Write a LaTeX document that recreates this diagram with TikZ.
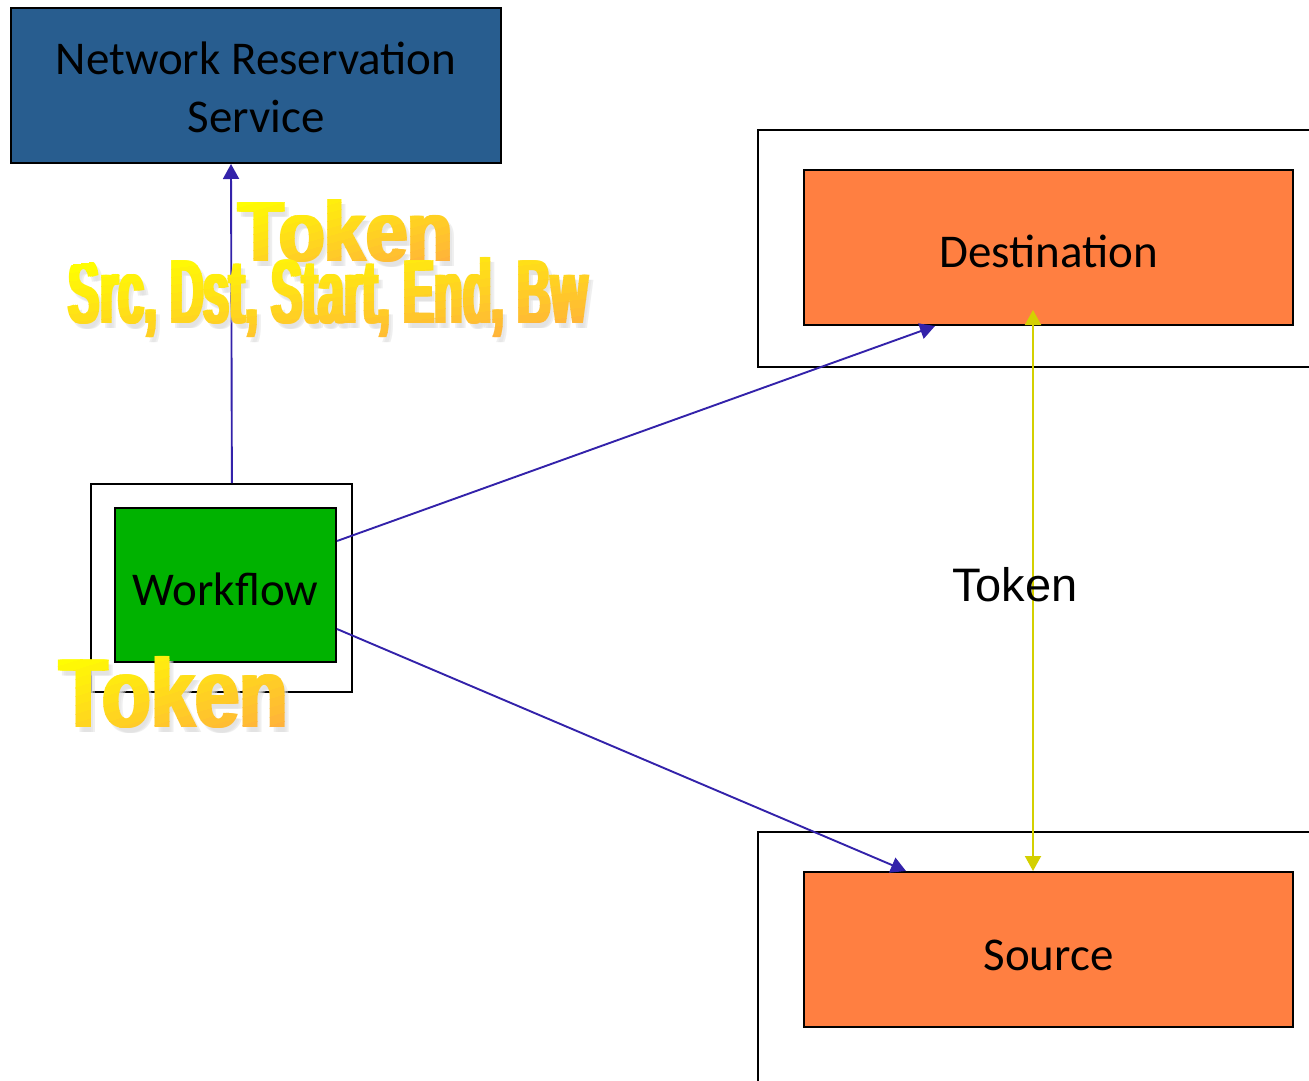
\documentclass[tikz,border=0pt]{standalone}
\usepackage{fontspec}
\setmainfont{Carlito}
\newfontfamily\arialfont{Liberation Sans}
\newfontfamily\wordartfont{Liberation Sans}[BoldFont={* Bold}]
\usetikzlibrary{arrows.meta,calc}
\definecolor{nrsblue}{HTML}{285D8F}
\definecolor{boxorange}{HTML}{FF7F41}
\definecolor{wfgreen}{HTML}{00B200}
\definecolor{linkblue}{HTML}{3322AA}
\definecolor{linkyellow}{HTML}{D4D000}
\definecolor{waorange}{HTML}{FFB03C}
\newcommand{\watext}[3]{\resizebox{\dimexpr#1pt-4pt\relax}{#2pt}{\wordartfont\bfseries #3}}
\newcommand{\lowtext}[2]{\raisebox{0pt}[\dimexpr\height+#1\relax][\depth]{#2}}
% #1 name, #2 x0, #3 y0, #4 width, #5 height, #6 text
\newcommand{\wordart}[6]{%
  \foreach \dx in {-2,0,2}{
    \node[text=black!12,opacity=0.5,inner sep=0pt] (#1sh\dx) at (#2+#4/2+4+\dx,#3+#5/2+5) {\watext{#4}{#5}{#6}};
  }
  \foreach \i in {0,...,15}{
    \pgfmathsetmacro{\pa}{\i/8}
    \pgfmathsetmacro{\pb}{(\i+1)/8+0.01}
    \pgfmathtruncatemacro{\pc}{round(100*(\i+0.5)/16)}
    \begin{scope}[shift={(#2,#3)},xscale=#4,yscale=#5]
      \clip (\pa+1,-1) -- (\pb+1,-1) -- (\pb-2,2) -- (\pa-2,2) -- cycle;
      \foreach \dx in {-2,0,2}{
        \node[text=waorange!\pc!yellow,inner sep=0pt] (#1\i n\dx) at (0.5+\dx/#4,0.5) {\watext{#4}{#5}{#6}};
      }
    \end{scope}
  }%
}
\tikzset{
  box/.style={draw=black,line width=2pt,inner sep=0pt,align=center,font=\fontsize{47}{58}\selectfont,text=black},
  frame/.style={draw=black,line width=1.8pt},
  link/.style={draw=linkblue,line width=1.9pt,-{Triangle[length=15pt,width=16pt]}},
  ylink/.style={draw=linkyellow,line width=2pt,{Triangle[length=15pt,width=16pt]}-{Triangle[length=15pt,width=16pt]}},
}
\begin{document}
\begin{tikzpicture}[x=1pt,y=-1pt]
\clip (0,0) rectangle (1309,1081);
\fill[white] (0,0) rectangle (1309,1081);
% outer frames
\node[frame,minimum width=600pt,minimum height=237pt,anchor=north west] (dsto) at (757,129) {};
\node[frame,minimum width=600pt,minimum height=300pt,anchor=north west] (srco) at (757,831) {};
\node[frame,minimum width=261pt,minimum height=208pt,anchor=north west] (wfo) at (90,483) {};
% main boxes
\node[box,fill=nrsblue,minimum width=490pt,minimum height=155pt] (nrs) at (256,85.5) {\lowtext{12pt}{\begin{tabular}{@{}c@{}}Network Reservation\\Service\end{tabular}}};
\node[box,fill=boxorange,minimum width=489pt,minimum height=155pt] (dst) at (1048.5,247.5) {\lowtext{8pt}{Destination}};
\node[box,fill=boxorange,minimum width=489pt,minimum height=155pt] (src) at (1048.5,949.5) {\lowtext{11pt}{Source}};
\node[box,fill=wfgreen,minimum width=221pt,minimum height=154pt] (wf) at (225.5,585) {\lowtext{8pt}{Workflow}};
% connectors
\draw[link] ($(wfo.north)+(10.5,0)$) -- ($(nrs.south)+(-25,0)$);
\draw[link] ($(wf.east)+(0,-44)$) -- ($(dst.south)+(-113.5,0)$);
\draw[link] ($(wf.east)+(0,44)$) -- ($(src.north)+(-142.5,0)$);
\draw[ylink] ($(dst.south)+(-15.5,-16)$) -- ($(src.north)+(-15.5,0)$);
\node[font=\arialfont\fontsize{47}{50}\selectfont,inner sep=0pt] (tokmid) at (1015,585) {Token};
% word art labels
\wordart{tokA}{237}{200}{218}{62}{Token}
\wordart{srcl}{67}{265}{523}{66}{Src, Dst, Start, End, Bw}
\wordart{tokB}{58}{657}{232}{71}{Token}
\end{tikzpicture}
\end{document}
